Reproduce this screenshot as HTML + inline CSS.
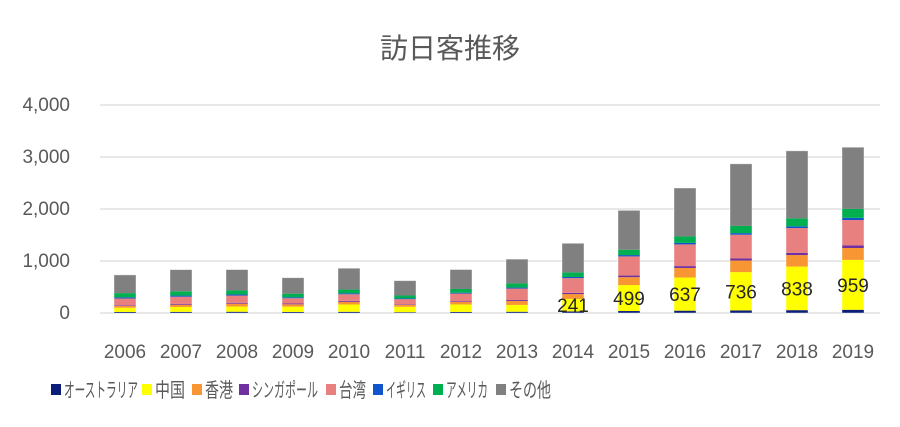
<!DOCTYPE html>
<html><head><meta charset="utf-8"><style>
body{margin:0;background:#fff;}
svg{display:block;font-family:"Liberation Sans","Noto Sans CJK JP",sans-serif;}
</style></head><body>
<svg width="900" height="427" viewBox="0 0 900 427" xmlns="http://www.w3.org/2000/svg">
<rect width="900" height="427" fill="#fff"/>
<text x="450" y="58" font-size="28" fill="#595959" text-anchor="middle">訪日客推移</text>
<g stroke="#d9d9d9" stroke-width="1.3">
<line x1="100" y1="105" x2="880" y2="105"/><line x1="100" y1="157" x2="880" y2="157"/>
<line x1="100" y1="209" x2="880" y2="209"/><line x1="100" y1="261" x2="880" y2="261"/>
<line x1="100" y1="313" x2="880" y2="313"/>
</g>
<g font-size="19" fill="#595959" text-anchor="end">
<text x="70" y="111">4,000</text><text x="70" y="163">3,000</text><text x="70" y="215">2,000</text>
<text x="70" y="267">1,000</text><text x="70" y="319">0</text>
</g>
<g id="bars"></g>
<g font-size="19" fill="#595959" text-anchor="middle" id="xl"></g>
<g font-size="20" fill="#595959">
<rect x="51" y="384" width="10" height="11" fill="#0b1f7a"/><text x="64" y="397" textLength="74" lengthAdjust="spacingAndGlyphs">オーストラリア</text>
<rect x="142" y="384" width="10" height="11" fill="#ffff00"/><text x="155" y="397" textLength="30" lengthAdjust="spacingAndGlyphs">中国</text>
<rect x="192" y="384" width="10" height="11" fill="#f79633"/><text x="205" y="397" textLength="28" lengthAdjust="spacingAndGlyphs">香港</text>
<rect x="239" y="384" width="10" height="11" fill="#7030a0"/><text x="252" y="397" textLength="66" lengthAdjust="spacingAndGlyphs">シンガポール</text>
<rect x="326" y="384" width="10" height="11" fill="#e88080"/><text x="339" y="397" textLength="27" lengthAdjust="spacingAndGlyphs">台湾</text>
<rect x="373" y="384" width="10" height="11" fill="#1155cc"/><text x="386" y="397" textLength="40" lengthAdjust="spacingAndGlyphs">イギリス</text>
<rect x="433" y="384" width="10" height="11" fill="#00b050"/><text x="446" y="397" textLength="42" lengthAdjust="spacingAndGlyphs">アメリカ</text>
<rect x="496" y="384" width="10" height="11" fill="#808080"/><text x="509" y="397" textLength="42" lengthAdjust="spacingAndGlyphs">その他</text>
</g>
<script>
var d=[[2006,20,81,35,12,131,22,82,350],[2007,22,94,43,15,139,22,82,417],[2008,24,100,55,17,139,22,77,401],
[2009,21,101,45,15,102,18,70,307],[2010,23,141,51,18,127,18,73,410],[2011,16,104,36,11,99,14,57,285],
[2012,21,143,48,14,147,17,72,374],[2013,24,131,75,19,221,19,80,467],[2014,30,241,93,23,283,22,89,560],
[2015,38,499,152,31,368,26,103,757],[2016,45,637,184,36,417,29,124,932],[2017,50,736,223,40,456,31,138,1195],
[2018,55,838,221,44,476,33,153,1299],[2019,62,959,229,49,489,42,172,1186]];
var c=["#0b1f7a","#ffff00","#f79633","#7030a0","#e88080","#1155cc","#00b050","#808080"];
var ns="http://www.w3.org/2000/svg",g=document.getElementById("bars"),xl=document.getElementById("xl");
function el(t,a,p){var e=document.createElementNS(ns,t);for(var k in a)e.setAttribute(k,a[k]);p.appendChild(e);return e;}
d.forEach(function(r,i){var cx=125+56*i,y=313;var yc=0;
 for(var j=1;j<=8;j++){var h=r[j]*0.052;y-=h;el("rect",{x:cx-11,y:y,width:22,height:h,fill:c[j-1]},g);if(j==2){yc=y+h/2;}}
 el("rect",{x:cx-11,y:y,width:22,height:313-y,fill:"none",stroke:"#ffffff","stroke-opacity":"0.5","stroke-width":"0.8"},g);
 if(i>=8){var t=el("text",{x:cx,y:yc+7,"font-size":"19","fill":"#262626","text-anchor":"middle"},g);t.textContent=r[2];}
 var tx=el("text",{x:cx,y:358},xl);tx.textContent=r[0];});
</script>
</svg>
</body></html>
